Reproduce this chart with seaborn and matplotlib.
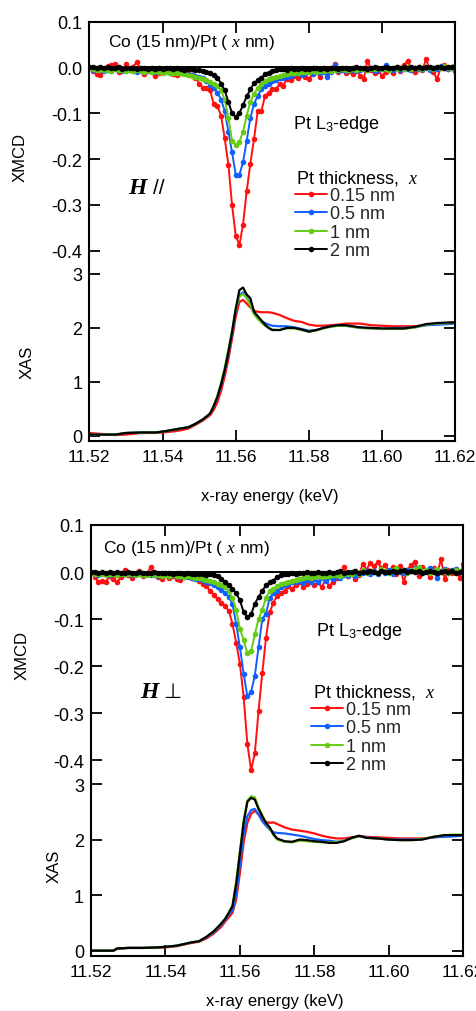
import numpy as np
import pandas as pd
import matplotlib
matplotlib.use("Agg")
import matplotlib.pyplot as plt
import seaborn as sns

sns.set_theme(style="ticks")
plt.rcParams["font.family"] = ["Liberation Sans", "DejaVu Sans"]
plt.rcParams["axes.unicode_minus"] = False
plt.rcParams["mathtext.fontset"] = "custom"
plt.rcParams["mathtext.rm"] = "Liberation Sans"
plt.rcParams["mathtext.it"] = "Liberation Serif:italic"
plt.rcParams["mathtext.bf"] = "Liberation Serif:italic:bold"

# ---------------- data ----------------
LABELS = ["0.15 nm", "0.5 nm", "1 nm", "2 nm"]
COLORS = ["#ff1010", "#1060ff", "#66cc11", "#000000"]
X_TICKS = [11.52, 11.54, 11.56, 11.58, 11.60, 11.62]
XMCD_TICKS = [0.1, 0.0, -0.1, -0.2, -0.3, -0.4]
XAS_TICKS = [0, 1, 2, 3]

E_XMCD = np.round(np.linspace(11.520, 11.620, 101), 3)

# H parallel (top figure)
par_xmcd_015 = [0.000, -0.008, -0.015, -0.017, -0.006, 0.003, 0.005, 0.007, -0.010, -0.004,
                0.007, -0.005, 0.002, 0.012, -0.003, -0.015, -0.006, -0.010, -0.018, -0.012,
                -0.004, -0.010, -0.008, -0.014, -0.017, -0.010, -0.006, -0.012, -0.016, -0.022,
                -0.035, -0.044, -0.045, -0.050, -0.080, -0.085, -0.105, -0.155, -0.212, -0.300,
                -0.367, -0.388, -0.343, -0.270, -0.210, -0.156, -0.096, -0.096, -0.062, -0.055,
                -0.047, -0.048, -0.035, -0.040, -0.025, -0.028, -0.018, -0.022, -0.012, -0.020,
                -0.025, -0.015, -0.010, -0.020, -0.008, -0.015, -0.005, 0.007, -0.010, -0.003,
                -0.012, -0.008, -0.015, -0.005, -0.018, -0.025, 0.015, -0.005, -0.012, -0.008,
                -0.018, -0.010, -0.003, -0.012, 0.002, -0.008, 0.005, 0.015, -0.005, -0.010,
                0.000, -0.006, 0.018, -0.003, -0.010, -0.025, -0.002, 0.005, -0.004, 0.002, -0.007]
par_xmcd_05 = [0.000, -0.005, -0.006, -0.004, -0.008, -0.005, -0.007, -0.003, -0.006, -0.008,
               -0.005, -0.004, -0.007, -0.009, -0.006, -0.010, -0.008, -0.006, -0.009, -0.007,
               -0.010, -0.008, -0.012, -0.010, -0.009, -0.013, -0.011, -0.014, -0.016, -0.018,
               -0.020, -0.024, -0.030, -0.038, -0.045, -0.055, -0.070, -0.095, -0.140, -0.185,
               -0.234, -0.234, -0.207, -0.160, -0.110, -0.080, -0.062, -0.048, -0.040, -0.035,
               -0.030, -0.027, -0.024, -0.022, -0.020, -0.018, -0.015, -0.013, -0.016, -0.012,
               -0.010, -0.014, -0.008, -0.012, -0.009, -0.020, -0.010, 0.006, -0.008, -0.005,
               -0.007, -0.004, -0.006, -0.008, -0.005, -0.003, -0.006, -0.004, -0.007, -0.005,
               -0.003, 0.005, -0.004, -0.006, -0.002, -0.005, -0.003, -0.004, -0.006, -0.002,
               -0.004, -0.003, -0.001, -0.005, -0.002, -0.004, 0.004, -0.002, -0.003, -0.001, 0.002]
par_xmcd_1 = [0.000, -0.003, -0.005, -0.004, -0.006, -0.005, -0.007, -0.004, -0.006, -0.005,
              -0.008, -0.006, -0.007, -0.005, -0.008, -0.009, -0.007, -0.010, -0.008, -0.009,
              -0.011, -0.010, -0.012, -0.011, -0.013, -0.012, -0.014, -0.016, -0.018, -0.020,
              -0.022, -0.025, -0.028, -0.032, -0.036, -0.040, -0.050, -0.070, -0.110, -0.160,
              -0.170, -0.162, -0.141, -0.105, -0.075, -0.058, -0.045, -0.035, -0.030, -0.025,
              -0.022, -0.020, -0.018, -0.016, -0.015, -0.013, -0.012, -0.011, -0.010, -0.009,
              -0.010, -0.008, -0.009, -0.007, -0.008, -0.006, -0.007, -0.005, -0.006, -0.004,
              -0.005, -0.006, -0.004, -0.005, -0.003, -0.004, -0.006, -0.003, -0.004, -0.002,
              -0.004, -0.003, -0.005, -0.002, -0.004, -0.001, -0.003, 0.002, -0.003, -0.002,
              -0.001, -0.003, 0.001, -0.002, -0.004, 0.000, -0.002, 0.003, -0.001, -0.002, 0.000]
par_xmcd_2 = [0.000, 0.002, -0.001, 0.001, -0.002, 0.000, -0.001, -0.002, 0.001, -0.003,
              -0.001, -0.002, -0.001, -0.003, -0.002, -0.001, -0.003, -0.002, -0.004, -0.002,
              -0.003, -0.002, -0.001, -0.003, -0.002, -0.004, -0.005, -0.003, -0.004, -0.005,
              -0.006, -0.008, -0.010, -0.013, -0.017, -0.022, -0.035, -0.050, -0.075, -0.100,
              -0.107, -0.100, -0.082, -0.063, -0.048, -0.034, -0.028, -0.022, -0.015, -0.012,
              -0.008, -0.006, -0.004, -0.003, -0.005, -0.002, -0.004, -0.003, -0.002, -0.004,
              -0.003, -0.002, -0.001, -0.003, -0.002, -0.004, -0.002, -0.001, -0.003, -0.002,
              -0.001, -0.003, -0.002, 0.000, -0.002, -0.001, -0.003, -0.002, 0.001, -0.001,
              -0.002, 0.000, -0.001, -0.002, 0.001, -0.001, 0.000, -0.002, 0.002, -0.001,
              0.000, -0.001, 0.002, 0.000, -0.001, 0.001, 0.000, -0.001, 0.002, 0.001, 0.003]

# H perpendicular (bottom figure)
perp_xmcd_015 = [0.000, -0.010, -0.022, -0.018, -0.020, -0.008, -0.015, -0.022, -0.010, 0.005,
                 -0.006, -0.012, -0.004, 0.003, -0.008, -0.005, 0.010, -0.006, -0.010, -0.015,
                 -0.005, -0.012, -0.008, -0.014, -0.016, -0.010, -0.006, -0.012, -0.010, -0.018,
                 -0.025, -0.030, -0.040, -0.048, -0.058, -0.065, -0.072, -0.082, -0.110, -0.150,
                 -0.195, -0.265, -0.365, -0.420, -0.385, -0.295, -0.215, -0.140, -0.085, -0.065,
                 -0.050, -0.045, -0.040, -0.030, -0.035, -0.028, -0.020, -0.032, -0.025, -0.018,
                 -0.028, -0.022, -0.032, -0.015, -0.030, -0.020, -0.012, -0.005, 0.010, -0.008,
                 -0.003, -0.014, -0.006, 0.018, 0.005, 0.020, 0.012, 0.021, 0.008, 0.015,
                 0.002, 0.010, -0.004, 0.012, -0.021, 0.005, 0.015, 0.022, -0.008, 0.010,
                 0.003, -0.011, 0.008, -0.005, 0.028, -0.015, 0.005, -0.002, 0.006, -0.012, 0.018]
perp_xmcd_05 = [0.000, -0.004, -0.006, -0.003, -0.005, -0.007, -0.004, -0.006, -0.003, -0.005,
                -0.004, -0.006, -0.003, -0.005, -0.007, -0.004, -0.006, -0.005, -0.008, -0.006,
                -0.007, -0.009, -0.006, -0.008, -0.010, -0.009, -0.011, -0.012, -0.014, -0.015,
                -0.017, -0.020, -0.023, -0.027, -0.032, -0.038, -0.045, -0.052, -0.068, -0.110,
                -0.160, -0.216, -0.264, -0.255, -0.220, -0.160, -0.100, -0.088, -0.055, -0.045,
                -0.040, -0.032, -0.028, -0.025, -0.022, -0.020, -0.018, -0.024, -0.016, -0.020,
                -0.014, -0.022, -0.012, -0.018, -0.010, -0.015, -0.008, -0.012, -0.006, -0.009,
                -0.005, -0.008, -0.004, -0.002, 0.003, -0.004, 0.002, -0.003, 0.005, -0.002,
                0.004, -0.003, 0.006, 0.001, -0.002, 0.005, 0.002, 0.008, 0.003, -0.001,
                0.004, 0.008, 0.002, -0.012, 0.003, 0.006, -0.002, 0.004, 0.007, 0.001, 0.005]
perp_xmcd_1 = [0.000, -0.003, -0.005, -0.004, -0.006, -0.005, -0.004, -0.006, -0.005, -0.003,
               -0.005, -0.004, -0.006, -0.005, -0.007, -0.006, -0.005, -0.007, -0.006, -0.008,
               -0.007, -0.008, -0.006, -0.009, -0.008, -0.010, -0.009, -0.011, -0.012, -0.013,
               -0.015, -0.017, -0.019, -0.022, -0.025, -0.028, -0.032, -0.040, -0.055, -0.080,
               -0.120, -0.145, -0.172, -0.168, -0.132, -0.100, -0.080, -0.055, -0.040, -0.035,
               -0.030, -0.026, -0.023, -0.020, -0.018, -0.016, -0.014, -0.013, -0.011, -0.012,
               -0.010, -0.009, -0.011, -0.008, -0.009, -0.007, -0.006, -0.008, -0.005, -0.003,
               -0.004, 0.002, -0.003, 0.004, -0.002, 0.003, 0.001, -0.002, 0.006, 0.002,
               -0.001, 0.004, 0.008, 0.002, 0.005, -0.001, 0.003, 0.006, 0.010, 0.002,
               0.004, -0.002, 0.003, 0.006, 0.001, 0.004, -0.001, 0.003, 0.005, 0.002, 0.004]
perp_xmcd_2 = [0.000, 0.001, -0.001, 0.000, -0.002, 0.001, -0.001, 0.000, -0.002, -0.001,
               0.000, -0.001, -0.002, 0.000, -0.001, -0.002, -0.001, 0.000, -0.002, -0.001,
               -0.002, -0.001, -0.003, -0.002, -0.001, -0.003, -0.002, -0.004, -0.003, -0.005,
               -0.004, -0.006, -0.005, -0.006, -0.008, -0.015, -0.022, -0.028, -0.035, -0.045,
               -0.060, -0.085, -0.096, -0.090, -0.067, -0.053, -0.040, -0.028, -0.022, -0.018,
               -0.010, -0.007, -0.005, -0.004, -0.002, -0.003, -0.001, -0.002, 0.000, -0.002,
               -0.001, 0.000, -0.002, -0.001, 0.001, -0.001, 0.000, 0.002, -0.001, 0.001,
               0.000, 0.002, -0.001, 0.001, 0.000, 0.003, 0.001, -0.001, 0.002, 0.000,
               0.001, 0.003, 0.000, 0.002, 0.004, 0.001, 0.003, 0.000, 0.002, -0.001,
               0.001, 0.002, 0.000, -0.002, 0.001, 0.003, 0.000, 0.002, -0.001, 0.001, 0.002]

E_XAS = [11.520, 11.524, 11.526, 11.527, 11.530, 11.534, 11.538, 11.540, 11.543, 11.545,
         11.547, 11.549, 11.551, 11.553, 11.554, 11.555, 11.556, 11.557, 11.558, 11.559,
         11.560, 11.561, 11.562, 11.563, 11.564, 11.565, 11.566, 11.567, 11.568, 11.569,
         11.570, 11.572, 11.574, 11.576, 11.578, 11.580, 11.582, 11.584, 11.586, 11.588,
         11.590, 11.592, 11.594, 11.597, 11.600, 11.603, 11.606, 11.609, 11.612, 11.615,
         11.618, 11.620]

par_xas_015 = [0.05, 0.03, 0.02, 0.01, 0.02, 0.05, 0.05, 0.06, 0.08, 0.10,
               0.13, 0.20, 0.28, 0.38, 0.48, 0.62, 0.83, 1.10, 1.42, 1.80,
               2.20, 2.48, 2.52, 2.45, 2.38, 2.32, 2.30, 2.29, 2.29, 2.29,
               2.28, 2.24, 2.18, 2.13, 2.11, 2.06, 2.04, 2.04, 2.05, 2.06,
               2.08, 2.08, 2.08, 2.05, 2.04, 2.03, 2.03, 2.03, 2.05, 2.07,
               2.09, 2.11]
par_xas_05 = [0.02, 0.02, 0.02, 0.02, 0.05, 0.06, 0.06, 0.075, 0.11, 0.135,
              0.155, 0.22, 0.30, 0.41, 0.54, 0.71, 0.93, 1.20, 1.52, 1.88,
              2.30, 2.60, 2.66, 2.56, 2.45, 2.30, 2.20, 2.13, 2.09, 2.06,
              2.04, 2.03, 2.03, 2.01, 1.98, 1.95, 1.96, 2.00, 2.03, 2.04,
              2.04, 2.02, 2.00, 1.99, 1.98, 1.99, 2.00, 2.01, 2.05, 2.06,
              2.07, 2.08]
par_xas_1 = [0.02, 0.02, 0.02, 0.02, 0.05, 0.06, 0.06, 0.075, 0.11, 0.135,
             0.155, 0.22, 0.30, 0.41, 0.56, 0.74, 0.98, 1.26, 1.60, 1.95,
             2.35, 2.58, 2.63, 2.55, 2.42, 2.25, 2.17, 2.10, 2.04, 2.00,
             1.97, 1.96, 1.99, 1.99, 1.96, 1.93, 1.95, 1.99, 2.02, 2.04,
             2.04, 2.02, 2.00, 1.99, 1.98, 1.98, 1.98, 2.01, 2.06, 2.08,
             2.09, 2.09]
par_xas_2 = [0.02, 0.02, 0.02, 0.02, 0.05, 0.06, 0.06, 0.075, 0.11, 0.135,
             0.155, 0.22, 0.30, 0.41, 0.55, 0.72, 0.95, 1.22, 1.55, 1.92,
             2.35, 2.70, 2.75, 2.62, 2.55, 2.30, 2.22, 2.14, 2.06, 2.00,
             1.96, 1.96, 2.00, 2.00, 1.97, 1.93, 1.96, 2.00, 2.03, 2.05,
             2.05, 2.03, 2.01, 2.00, 1.99, 1.99, 1.99, 2.02, 2.07, 2.09,
             2.10, 2.10]

perp_xas_015 = [0.00, 0.00, 0.00, 0.03, 0.05, 0.05, 0.05, 0.06, 0.08, 0.11,
                0.14, 0.16, 0.22, 0.31, 0.37, 0.43, 0.52, 0.60, 0.68, 0.92,
                1.40, 1.95, 2.30, 2.46, 2.52, 2.45, 2.38, 2.32, 2.30, 2.31,
                2.28, 2.22, 2.18, 2.16, 2.14, 2.11, 2.07, 2.04, 2.02, 2.02,
                2.04, 2.06, 2.05, 2.04, 2.03, 2.02, 2.02, 2.02, 2.04, 2.06,
                2.07, 2.08]
perp_xas_05 = [0.00, 0.00, 0.00, 0.04, 0.05, 0.05, 0.06, 0.07, 0.09, 0.12,
               0.15, 0.17, 0.24, 0.33, 0.40, 0.47, 0.55, 0.65, 0.72, 1.00,
               1.55, 2.10, 2.42, 2.53, 2.55, 2.45, 2.33, 2.25, 2.18, 2.13,
               2.12, 2.11, 2.09, 2.07, 2.04, 2.01, 1.99, 1.98, 1.96, 1.98,
               2.03, 2.06, 2.04, 2.02, 2.00, 2.00, 2.00, 2.01, 2.04, 2.05,
               2.06, 2.07]
perp_xas_1 = [0.00, 0.00, 0.00, 0.04, 0.05, 0.05, 0.06, 0.07, 0.09, 0.12,
              0.15, 0.17, 0.25, 0.35, 0.42, 0.49, 0.57, 0.69, 0.82, 1.25,
              1.80, 2.35, 2.70, 2.78, 2.76, 2.58, 2.44, 2.30, 2.20, 2.08,
              2.00, 1.96, 1.95, 1.98, 1.97, 1.96, 1.95, 1.95, 1.95, 1.98,
              2.02, 2.06, 2.03, 2.02, 2.00, 1.99, 1.99, 2.01, 2.05, 2.08,
              2.09, 2.09]
perp_xas_2 = [0.00, 0.00, 0.00, 0.04, 0.05, 0.05, 0.06, 0.07, 0.09, 0.12,
              0.15, 0.17, 0.25, 0.35, 0.42, 0.49, 0.57, 0.68, 0.80, 1.20,
              1.75, 2.30, 2.68, 2.75, 2.72, 2.55, 2.42, 2.30, 2.22, 2.10,
              2.02, 1.97, 1.96, 2.00, 1.99, 1.97, 1.96, 1.94, 1.94, 1.97,
              2.03, 2.07, 2.03, 2.02, 2.00, 1.99, 1.99, 2.00, 2.05, 2.08,
              2.08, 2.08]

# ---------------- figure ----------------
W, H = 476, 1012
fig = plt.figure(figsize=(W / 100, H / 100), dpi=100)


def fx(x):
    return x / W


def fy(y):
    return 1 - y / H


def style_axes(ax, ylim, yticks, fmt, top_panel):
    ax.set_xlim(11.52, 11.62)
    ax.set_ylim(*ylim)
    ax.set_xticks(X_TICKS)
    ax.set_yticks(yticks)
    ax.yaxis.set_major_formatter(plt.FormatStrFormatter(fmt))
    ax.xaxis.set_major_formatter(plt.FormatStrFormatter("%.2f"))
    ax.set_xlabel("")
    ax.set_ylabel("")
    for s in ax.spines.values():
        s.set_linewidth(1.5)
        s.set_color("black")
    ax.tick_params(axis="both", direction="in", length=8, width=1.3,
                   colors="black", left=True, right=True)
    ax.tick_params(axis="y", pad=5, labelsize=13)
    ax.tick_params(axis="x", labelsize=12.5)
    if top_panel:
        ax.spines["bottom"].set_visible(False)
        ax.tick_params(axis="x", top=True, bottom=False, labelbottom=False)
    else:
        ax.spines["top"].set_visible(False)
        ax.tick_params(axis="x", top=False, bottom=True, labelbottom=True, pad=6)
    ax.set_facecolor("white")


def make_half(lx, rx, ytop, yb, ybot, mcd_ylim, xas_ylim, mcd_series, xas_series,
              leg_xy, title_xy, co_xy, l3_xy, h_xy, h_sym, sym_xy, ylab_mcd, ylab_xas,
              xlab_xy):
    ax1 = fig.add_axes([fx(lx), fy(yb), fx(rx) - fx(lx), (yb - ytop) / H])
    ax2 = fig.add_axes([fx(lx), fy(ybot), fx(rx) - fx(lx), (ybot - yb) / H])

    ax1.axhline(0, color="black", lw=1.4, zorder=1)
    for lab, col, vals in zip(LABELS, COLORS, mcd_series):
        df = pd.DataFrame({"E": E_XMCD, "v": vals})
        sns.lineplot(data=df, x="E", y="v", ax=ax1, color=col, lw=1.4,
                     marker="o", markersize=4.0, markeredgewidth=0,
                     label=lab, sort=False, estimator=None, zorder=2)
    for lab, col, vals in zip(LABELS, COLORS, xas_series):
        df = pd.DataFrame({"E": E_XAS, "v": vals})
        sns.lineplot(data=df, x="E", y="v", ax=ax2, color=col, lw=1.6,
                     sort=False, estimator=None, legend=False, zorder=2)
    if ax2.get_legend() is not None:
        ax2.get_legend().remove()

    style_axes(ax1, mcd_ylim, XMCD_TICKS, "%.1f", True)
    style_axes(ax2, xas_ylim, XAS_TICKS, "%d", False)

    handles = [l for l in ax1.get_lines() if l.get_label() in LABELS]
    ax1.legend(handles, LABELS, loc="upper left",
               bbox_to_anchor=(fx(leg_xy[0]), fy(leg_xy[1])),
               bbox_transform=fig.transFigure, frameon=False,
               fontsize=13, handlelength=1.75, handletextpad=0.2,
               labelspacing=0.08, borderpad=0, borderaxespad=0)

    fig.text(fx(title_xy[0]), fy(title_xy[1]), "Pt thickness,  $x$", fontsize=13,
             ha="left", va="center", color="black")
    fig.text(fx(co_xy[0]), fy(co_xy[1]), "Co (15 nm)/Pt ( $x$ nm)", fontsize=12.5,
             ha="left", va="center", color="black")
    fig.text(fx(l3_xy[0]), fy(l3_xy[1]), "Pt L$_3$-edge", fontsize=13,
             ha="left", va="center", color="black")
    fig.text(fx(h_xy[0]), fy(h_xy[1]), "$\\mathbf{H}$", fontsize=17,
             ha="left", va="center", color="black")
    fig.text(fx(sym_xy[0]), fy(sym_xy[1]), h_sym, fontsize=15,
             ha="left", va="center", color="black")
    fig.text(fx(ylab_mcd[0]), fy(ylab_mcd[1]), "XMCD", fontsize=12, rotation=90,
             ha="center", va="center", color="black")
    fig.text(fx(ylab_xas[0]), fy(ylab_xas[1]), "XAS", fontsize=12, rotation=90,
             ha="center", va="center", color="black")
    fig.text(fx(xlab_xy[0]), fy(xlab_xy[1]), "x-ray energy (keV)", fontsize=12,
             ha="center", va="center", color="black")


make_half(89.3, 455.3, 22.7, 262, 441.7, (-0.4225, 0.1), (-0.093, 3.241),
          [par_xmcd_015, par_xmcd_05, par_xmcd_1, par_xmcd_2],
          [par_xas_015, par_xas_05, par_xas_1, par_xas_2],
          leg_xy=(295, 188), title_xy=(296, 178), co_xy=(108, 43), l3_xy=(293, 125),
          h_xy=(128, 188), h_sym="//", sym_xy=(153, 188),
          ylab_mcd=(20, 157), ylab_xas=(27, 362), xlab_xy=(270, 497))

make_half(91, 463.3, 526, 775, 956.7, (-0.4287, 0.1), (-0.09, 3.18),
          [perp_xmcd_015, perp_xmcd_05, perp_xmcd_1, perp_xmcd_2],
          [perp_xas_015, perp_xas_05, perp_xas_1, perp_xas_2],
          leg_xy=(311, 702), title_xy=(313, 692), co_xy=(103, 548), l3_xy=(316, 632),
          h_xy=(140, 692), h_sym="\u22a5", sym_xy=(163, 692),
          ylab_mcd=(22, 656), ylab_xas=(54, 866), xlab_xy=(275, 1002))

fig.savefig("out.png", dpi=100, facecolor="white")
